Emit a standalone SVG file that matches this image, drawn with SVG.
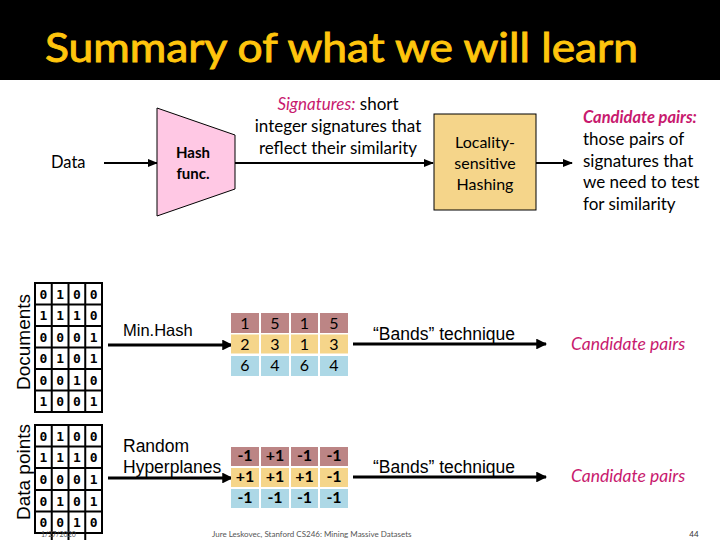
<svg xmlns="http://www.w3.org/2000/svg" width="720" height="540" viewBox="0 0 720 540">
<defs>
<marker id="ah" viewBox="0 0 10 10" refX="9" refY="5" markerWidth="5" markerHeight="5" orient="auto" markerUnits="strokeWidth"><path d="M0,1 L10,5 L0,9 z" fill="#000"/></marker>
<marker id="ah2" viewBox="0 0 10 10" refX="9" refY="5" markerWidth="3.6" markerHeight="3.6" orient="auto" markerUnits="strokeWidth"><path d="M0,0 L10,5 L0,10 z" fill="#000"/></marker>
</defs>
<style>
.t{font-family:Lato,"Open Sans",sans-serif;fill:#000}
.ar{font-family:"Liberation Sans",Arial,sans-serif;fill:#000}
.mg{font-family:Lato,"Open Sans",sans-serif;fill:#C8196E;font-style:italic}
.c{stroke:#000;stroke-width:2;fill:none}
.c3{stroke:#000;stroke-width:3;fill:none}
.mx{fill:#fff;stroke:#000;stroke-width:2}
.d{font-family:"DejaVu Sans Mono",monospace;font-size:13px;font-weight:bold;fill:#000;text-anchor:middle}
.s{font-family:Lato,"Open Sans",sans-serif;font-size:16px;fill:#000;text-anchor:middle}
.r1{fill:#BC8585}
.r2{fill:#F5D58A}
.r3{fill:#ADD8E6}
</style>
<rect x="0" y="0" width="720" height="80" fill="#000"/>
<text x="45" y="62" font-family="Lato,'Open Sans',sans-serif" font-size="40" fill="#FFC50D" stroke="#FFC50D" stroke-width="0.9" textLength="593" lengthAdjust="spacingAndGlyphs">Summary of what we will learn</text>

<g id="connectors">
<line class="c" x1="104" y1="163" x2="157" y2="163" marker-end="url(#ah)"/>
<line class="c" x1="235" y1="163" x2="433" y2="163" marker-end="url(#ah)"/>
<line class="c" x1="536" y1="163" x2="572" y2="163" marker-end="url(#ah)"/>
<line class="c3" x1="108" y1="345" x2="232" y2="345" marker-end="url(#ah2)"/>
<line class="c3" x1="108" y1="478" x2="232" y2="478" marker-end="url(#ah2)"/>
<line class="c3" x1="353" y1="344" x2="546" y2="344" marker-end="url(#ah2)"/>
<line class="c3" x1="353" y1="477" x2="546" y2="477" marker-end="url(#ah2)"/>
</g>

<g id="data"><text class="t" x="51" y="168" font-size="16.5">Data</text></g>

<g id="hash">
<polygon points="157,108 235,135 235,189 157,216" fill="#FFC8E4" stroke="#000" stroke-width="1"/>
<text class="t" x="193" y="158" font-size="15" font-weight="bold" text-anchor="middle">Hash</text>
<text class="t" x="193" y="179" font-size="15" font-weight="bold" text-anchor="middle">func.</text>
</g>

<g id="signatures">
<text class="t" x="338" y="110" font-size="17" text-anchor="middle"><tspan class="mg">Signatures:</tspan> short</text>
<text class="t" x="338" y="132" font-size="17" text-anchor="middle">integer signatures that</text>
<text class="t" x="338" y="154" font-size="17" text-anchor="middle">reflect their similarity</text>
</g>

<g id="lsh">
<rect x="434" y="114" width="102" height="96" fill="#F5D58A" stroke="#000" stroke-width="1"/>
<text class="t" x="485" y="148" font-size="16" text-anchor="middle">Locality-</text>
<text class="t" x="485" y="169" font-size="16" text-anchor="middle">sensitive</text>
<text class="t" x="485" y="190" font-size="16" text-anchor="middle">Hashing</text>
</g>

<g id="candidates-top">
<text class="mg" x="583" y="123" font-size="16.5" font-weight="bold">Candidate pairs:</text>
<text class="t" x="583" y="145" font-size="17">those pairs of</text>
<text class="t" x="583" y="167" font-size="17">signatures that</text>
<text class="t" x="583" y="188" font-size="17">we need to test</text>
<text class="t" x="583" y="210" font-size="17">for similarity</text>
</g>

<g id="documents">
<text class="ar" transform="translate(30,342) rotate(-90)" font-size="19" text-anchor="middle">Documents</text>
<rect class="mx" x="35" y="283" width="67" height="129"/>
<path d="M51.75,283V412M68.5,283V412M85.25,283V412M35,304.5H102M35,326H102M35,347.5H102M35,369H102M35,390.5H102" stroke="#000" stroke-width="2"/>
<text class="d" y="299"><tspan x="43.4">0</tspan><tspan x="60.1">1</tspan><tspan x="76.9">0</tspan><tspan x="93.6">0</tspan></text>
<text class="d" y="320"><tspan x="43.4">1</tspan><tspan x="60.1">1</tspan><tspan x="76.9">1</tspan><tspan x="93.6">0</tspan></text>
<text class="d" y="342"><tspan x="43.4">0</tspan><tspan x="60.1">0</tspan><tspan x="76.9">0</tspan><tspan x="93.6">1</tspan></text>
<text class="d" y="363"><tspan x="43.4">0</tspan><tspan x="60.1">1</tspan><tspan x="76.9">0</tspan><tspan x="93.6">1</tspan></text>
<text class="d" y="385"><tspan x="43.4">0</tspan><tspan x="60.1">0</tspan><tspan x="76.9">1</tspan><tspan x="93.6">0</tspan></text>
<text class="d" y="406"><tspan x="43.4">1</tspan><tspan x="60.1">0</tspan><tspan x="76.9">0</tspan><tspan x="93.6">1</tspan></text>
</g>

<g id="minhash"><text class="ar" x="123" y="336" font-size="16.5">Min.Hash</text></g>

<g id="sig-matrix">
<rect class="r1" x="231" y="313" width="28" height="20"/><rect class="r1" x="261" y="313" width="28" height="20"/><rect class="r1" x="291" y="313" width="27" height="20"/><rect class="r1" x="320" y="313" width="28" height="20"/>
<rect class="r2" x="231" y="334.5" width="28" height="19"/><rect class="r2" x="261" y="334.5" width="28" height="19"/><rect class="r2" x="291" y="334.5" width="27" height="19"/><rect class="r2" x="320" y="334.5" width="28" height="19"/>
<rect class="r3" x="231" y="356" width="28" height="20"/><rect class="r3" x="261" y="356" width="28" height="20"/><rect class="r3" x="291" y="356" width="27" height="20"/><rect class="r3" x="320" y="356" width="28" height="20"/>
<text class="s" y="329"><tspan x="245">1</tspan><tspan x="275">5</tspan><tspan x="304.5">1</tspan><tspan x="334">5</tspan></text>
<text class="s" y="350"><tspan x="245">2</tspan><tspan x="275">3</tspan><tspan x="304.5">1</tspan><tspan x="334">3</tspan></text>
<text class="s" y="371"><tspan x="245">6</tspan><tspan x="275">4</tspan><tspan x="304.5">6</tspan><tspan x="334">4</tspan></text>
</g>

<g id="bands-top"><text class="ar" x="373" y="340" font-size="17.5">“Bands” technique</text></g>
<g id="cand-mid"><text class="mg" x="571" y="350" font-size="17.5">Candidate pairs</text></g>

<g id="datapoints">
<text class="ar" transform="translate(30,472) rotate(-90)" font-size="19" text-anchor="middle">Data points</text>
<rect class="mx" x="35" y="425" width="67" height="108"/>
<path d="M51.75,425V540M68.5,425V540M85.25,425V540M35,446.5H102M35,468H102M35,490H102M35,511.5H102M35,533H102" stroke="#000" stroke-width="2"/>
<text class="d" y="441"><tspan x="43.4">0</tspan><tspan x="60.1">1</tspan><tspan x="76.9">0</tspan><tspan x="93.6">0</tspan></text>
<text class="d" y="462"><tspan x="43.4">1</tspan><tspan x="60.1">1</tspan><tspan x="76.9">1</tspan><tspan x="93.6">0</tspan></text>
<text class="d" y="484"><tspan x="43.4">0</tspan><tspan x="60.1">0</tspan><tspan x="76.9">0</tspan><tspan x="93.6">1</tspan></text>
<text class="d" y="506"><tspan x="43.4">0</tspan><tspan x="60.1">1</tspan><tspan x="76.9">0</tspan><tspan x="93.6">1</tspan></text>
<text class="d" y="527"><tspan x="43.4">0</tspan><tspan x="60.1">0</tspan><tspan x="76.9">1</tspan><tspan x="93.6">0</tspan></text>
</g>

<g id="hyperplanes">
<text class="ar" x="123" y="452" font-size="17.5">Random</text>
<text class="ar" x="123" y="473" font-size="17.5">Hyperplanes</text>
</g>

<g id="pm-matrix">
<rect class="r1" x="231" y="447" width="28" height="19"/><rect class="r1" x="261" y="447" width="28" height="19"/><rect class="r1" x="291" y="447" width="27" height="19"/><rect class="r1" x="320" y="447" width="28" height="19"/>
<rect class="r2" x="231" y="468" width="28" height="19"/><rect class="r2" x="261" y="468" width="28" height="19"/><rect class="r2" x="291" y="468" width="27" height="19"/><rect class="r2" x="320" y="468" width="28" height="19"/>
<rect class="r3" x="231" y="489" width="28" height="19"/><rect class="r3" x="261" y="489" width="28" height="19"/><rect class="r3" x="291" y="489" width="27" height="19"/><rect class="r3" x="320" y="489" width="28" height="19"/>
<text class="s" y="461" font-size="13" font-weight="bold"><tspan x="245">-1</tspan><tspan x="275">+1</tspan><tspan x="304.5">-1</tspan><tspan x="334">-1</tspan></text>
<text class="s" y="482" font-size="13" font-weight="bold"><tspan x="245">+1</tspan><tspan x="275">+1</tspan><tspan x="304.5">+1</tspan><tspan x="334">-1</tspan></text>
<text class="s" y="503" font-size="13" font-weight="bold"><tspan x="245">-1</tspan><tspan x="275">-1</tspan><tspan x="304.5">-1</tspan><tspan x="334">-1</tspan></text>
</g>

<g id="bands-bottom"><text class="ar" x="373" y="473" font-size="17.5">“Bands” technique</text></g>
<g id="cand-bottom"><text class="mg" x="571" y="482" font-size="17.5">Candidate pairs</text></g>

<text x="41" y="537" font-family="Lato,sans-serif" font-size="7" fill="#555">1/27/2020</text>
<text x="212" y="537" font-family="Lato,sans-serif" font-size="8" fill="#555">Jure Leskovec, Stanford CS246: Mining Massive Datasets</text>
<text x="694" y="537" font-family="Lato,sans-serif" font-size="8" fill="#333" text-anchor="middle">44</text>
</svg>
